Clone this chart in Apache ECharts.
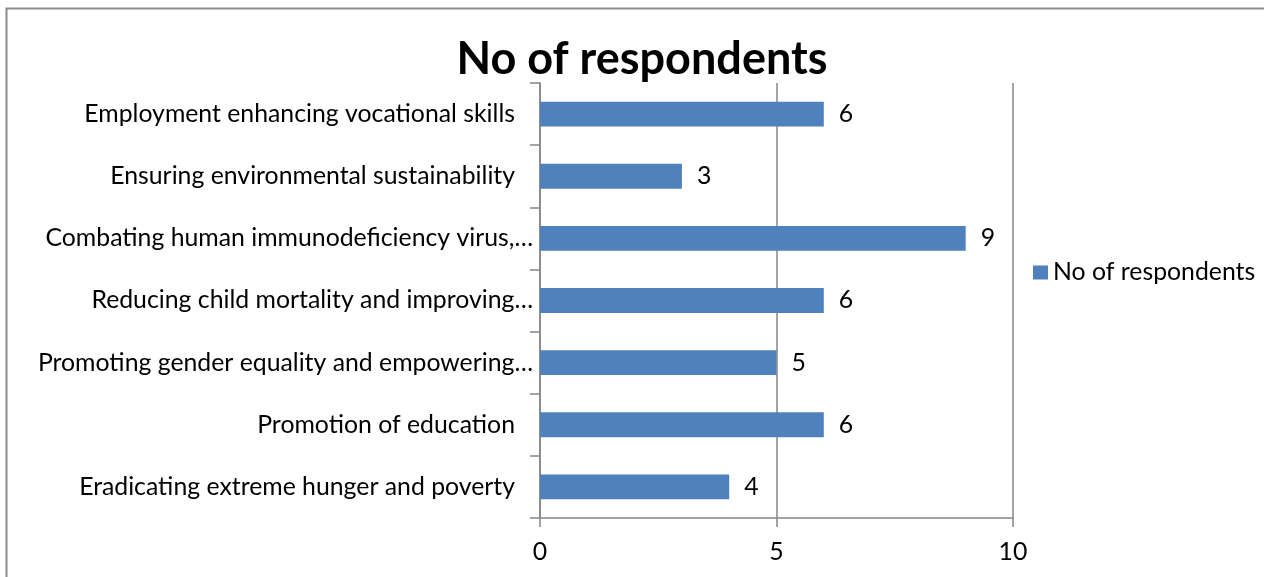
<!DOCTYPE html>
<html>
<head>
<meta charset="utf-8">
<script src="https://cdn.jsdelivr.net/npm/echarts@6/dist/echarts.min.js"></script>
<style>
  html, body { margin: 0; padding: 0; background: #fff; }
  #chart { width: 1264px; height: 577px; }
</style>
</head>
<body>
<div id="chart"></div>
<script>
// Categories, top to bottom
const categories = [
  'Employment enhancing vocational skills',
  'Ensuring environmental sustainability',
  'Combating human immunodeficiency virus,…',
  'Reducing child mortality and improving…',
  'Promoting gender equality and empowering…',
  'Promotion of education',
  'Eradicating extreme hunger and poverty'
];
const respondents = [6, 3, 9, 6, 5, 6, 4];
const seriesName = 'No of respondents';
const chartTitle = 'No of respondents';
const xTicks = [0, 5, 10];

const FONT = 'Lato';
const TEXT_SIZE = 24.8;
const AXIS_GRAY = '#868686';
const BAR_BLUE = '#4F81BD';

const chart = echarts.init(document.getElementById('chart'));

// Shortened labels sit closer to the axis than full ones
const yAxisData = categories.map(name => ({
  value: name,
  textStyle: { padding: [0, name.endsWith('…') ? 0 : 18, 0, 0] }
}));

chart.setOption({
  animation: false,
  backgroundColor: '#fff',
  textStyle: { fontFamily: FONT },
  graphic: [{
    type: 'rect',
    shape: { x: 6.5, y: 8.5, width: 1400, height: 700 },
    style: { fill: 'none', stroke: '#8c8c8c', lineWidth: 2 },
    silent: true
  }],
  title: {
    text: chartTitle,
    left: 637,
    textAlign: 'center',
    top: 32,
    textStyle: { fontFamily: FONT, fontWeight: 'bold', fontSize: 45, color: '#000' }
  },
  legend: {
    data: [seriesName],
    left: 1028,
    top: 255,
    icon: 'rect',
    itemWidth: 15,
    itemHeight: 14,
    textStyle: { fontFamily: FONT, fontSize: TEXT_SIZE, color: '#000' }
  },
  grid: { left: 540, right: 251, top: 83, bottom: 59, containLabel: false },
  xAxis: {
    type: 'value',
    min: xTicks[0],
    max: xTicks[xTicks.length - 1],
    interval: xTicks[1] - xTicks[0],
    axisLine: { show: true, lineStyle: { color: AXIS_GRAY, width: 1.5 } },
    axisTick: { show: true, length: 9, lineStyle: { color: AXIS_GRAY, width: 1.5 } },
    splitLine: { show: true, lineStyle: { color: AXIS_GRAY, width: 1.5 } },
    axisLabel: { fontFamily: FONT, fontSize: TEXT_SIZE, color: '#000', margin: 22 }
  },
  yAxis: {
    type: 'category',
    inverse: true,
    data: yAxisData,
    axisLine: { show: true, lineStyle: { color: AXIS_GRAY, width: 1.5 } },
    axisTick: { show: true, length: 10, lineStyle: { color: AXIS_GRAY, width: 1.5 } },
    axisLabel: { fontFamily: FONT, fontSize: TEXT_SIZE, color: '#000', margin: 7 }
  },
  series: [{
    name: seriesName,
    type: 'bar',
    data: respondents,
    barCategoryGap: '60%',
    itemStyle: { color: BAR_BLUE },
    label: {
      show: true,
      position: 'right',
      distance: 15,
      fontFamily: FONT,
      fontSize: TEXT_SIZE,
      color: '#000'
    }
  }]
});
</script>
</body>
</html>
